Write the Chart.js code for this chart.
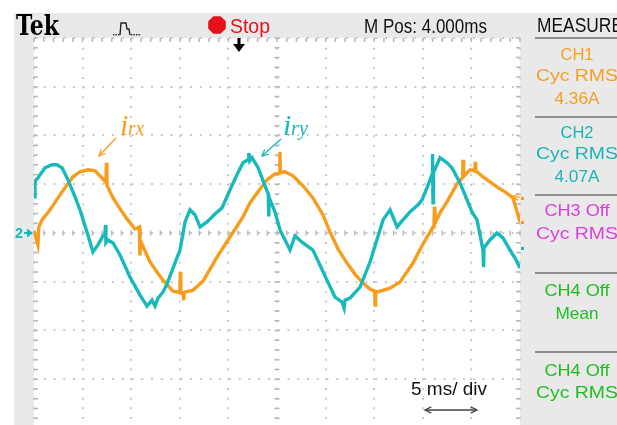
<!DOCTYPE html>
<html>
<head>
<meta charset="utf-8">
<script src="https://cdn.jsdelivr.net/npm/chart.js@4.4.0/dist/chart.umd.min.js"></script>
<style>
  html, body { margin: 0; padding: 0; background: #fff; }
  canvas { display: block; }
</style>
</head>
<body>
<canvas id="scope" width="617" height="425"></canvas>
<script>
// scope screen: 5 ms/div horizontally, 5 A/div vertically (ground at centre line)
const timeTicks = [0, 5, 10, 15, 20, 25, 30, 35, 40, 45, 50];
const ampTicks = [-15, -10, -5, 0, 5, 10, 15, 20];

// CH1 - i_rx (orange), spikes kept as extra points
const irxTime = [0, 0.4, 0.5, 0.82, 1.65, 2.67, 4.01, 4.73, 5.56, 6.28, 6.79, 7.4, 7.45, 7.5, 8.13, 8.85, 9.57, 10.39,
  10.85, 10.9, 10.95, 11.93, 12.65, 13.27, 14.3, 15.0, 15.05, 15.1, 15.33, 15.4, 15.45, 16.36, 17.39, 18.11, 18.83,
  20.16, 21.5, 22.22, 23.05, 23.97, 24.79, 25.25, 25.3, 25.35, 25.82, 26.65, 27.67, 28.7, 29.73, 30.45, 31.28, 32.2,
  33.02, 33.85, 34.57, 35.05, 35.1, 35.15, 35.29, 36.63, 37.65, 38.99, 40.02, 41.05, 41.15, 41.2, 41.25, 41.77, 42.49,
  43.52, 44.1, 44.14, 44.2, 44.86, 45.35, 45.4, 45.45, 45.58, 46.19, 47.63, 48.46, 49.28, 50.0];
const irxAmp = [0.21, -1.2, 0.6, 1.34, 2.37, 3.91, 5.76, 6.28, 6.48, 6.38, 5.86, 5.2, 7.2, 4.9, 3.6, 2.47, 1.44, 0.41,
  0.6, -2.3, -0.8, -2.98, -4.01, -4.84, -5.97, -6.1, -4.0, -6.2, -6.17, -6.9, -6.1, -5.86, -4.94, -3.7, -2.47,
  -0.41, 1.65, 3.09, 4.22, 5.45, 6.07, 6.1, 8.3, 6.2, 6.28, 5.86, 4.84, 3.6, 1.85, 0.1, -1.65, -3.09,
  -4.22, -5.14, -5.76, -6.0, -7.4, -6.0, -6.07, -5.66, -5.04, -3.09, -1.13, 0.62, 0.8, 2.7, 1.0, 2.06, 3.19,
  5.04, 5.7, 7.5, 5.8, 6.48, 6.4, 7.3, 6.3, 6.28, 5.76, 4.73, 4.22, 3.6, 1.13];

// CH2 - i_ry (cyan)
const iryTime = [0, 0.1, 0.41, 1.13, 1.85, 2.37, 2.88, 3.5, 4.22, 4.73, 5.45, 6.07, 6.58, 7.1, 7.3, 7.35, 7.4, 7.61,
  8.13, 8.85, 9.88, 10.91, 11.63, 12.14, 12.45, 12.76, 13.27, 13.68, 14.3, 15.02, 15.54, 16.05, 16.57, 17.08, 17.8,
  18.62, 19.34, 20.16, 20.88, 21.5, 22.02, 22.1, 22.2, 22.43, 23.05, 23.77, 24.1, 24.15, 24.2, 24.28, 24.79, 25.31,
  26.34, 26.85, 27.67, 28.7, 30.14, 30.97, 31.69, 31.9, 32.0, 32.51, 33.54, 34.57, 35.91, 36.63, 37.35, 37.96, 38.68,
  39.51, 39.92, 40.43, 40.95, 41.0, 41.05, 41.1, 41.46, 41.77, 42.49, 43.0, 43.83, 44.55, 45.06, 45.58, 46.19, 46.25,
  46.3, 46.91, 47.63, 48.25, 48.97, 49.49, 50.0];
const iryAmp = [3.7, 5.3, 5.66, 6.69, 7.0, 7.0, 6.69, 5.45, 3.7, 2.37, 0.1, -1.95, -1.23, -0.31, -0.3, 0.8, -1.0, -0.72,
  -1.03, -2.26, -4.53, -6.38, -7.51, -6.89, -7.5, -6.69, -6.07, -5.25, -3.6, -1.75, 1.13, 2.37, 1.85, 0.62, 1.13,
  1.95, 2.57, 4.42, 5.97, 7.2, 7.51, 8.2, 7.4, 7.72, 6.69, 4.84, 4.0, 1.7, 3.2, 3.4, 2.16, 0.31,
  -1.75, -0.31, -1.03, -1.75, -4.84, -6.58, -7.1, -7.7, -6.9, -6.69, -5.56, -2.98, 1.34, 2.37, 0.62, 1.34, 2.16,
  2.88, 3.4, 4.63, 5.97, 8.1, 3.1, 6.2, 7.0, 7.72, 7.2, 6.69, 5.14, 3.4, 2.16, 1.34, -1.75, -3.5,
  -1.5, -0.72, 0, -0.51, -1.75, -2.57, -3.6];

const measureLines = [
  ['CH1', '#f5a01e', 60, 33], ['Cyc RMS', '#f5a01e', 81, 82], ['4.36A', '#f5a01e', 104, 45],
  ['CH2', '#19b5b5', 138, 33], ['Cyc RMS', '#19b5b5', 159, 82], ['4.07A', '#19b5b5', 182, 45],
  ['CH3 Off', '#dc3fdc', 216, 65], ['Cyc RMS', '#dc3fdc', 239, 82],
  ['CH4 Off', '#1fbf1f', 296, 65], ['Mean', '#1fbf1f', 319, 43],
  ['CH4 Off', '#1fbf1f', 376, 65], ['Cyc RMS', '#1fbf1f', 398, 82]
];
const separatorsY = [38, 117, 195, 273, 352];

const ORANGE = '#f79c1c';
const CYAN = '#17b9bb';

function toPoints(xs, ys) {
  return xs.map((x, i) => ({ x: x, y: ys[i] }));
}

// text squeezed / stretched to the width it has on the scope screen
function label(ctx, str, x, y, font, color, width, align) {
  ctx.save();
  ctx.font = font;
  ctx.fillStyle = color;
  ctx.textBaseline = 'alphabetic';
  const w = ctx.measureText(str).width;
  const sx = width ? width / w : 1;
  const left = align === 'center' ? x - w * sx / 2 : x;
  ctx.translate(left, y);
  ctx.scale(sx, 1);
  ctx.fillText(str, 0, 0);
  ctx.restore();
}

function arrowLine(ctx, x1, y1, x2, y2, color, both) {
  const head = (fx, fy, tx, ty) => {
    const a = Math.atan2(ty - fy, tx - fx);
    ctx.beginPath();
    ctx.moveTo(tx - 7 * Math.cos(a - 0.45), ty - 7 * Math.sin(a - 0.45));
    ctx.lineTo(tx, ty);
    ctx.lineTo(tx - 7 * Math.cos(a + 0.45), ty - 7 * Math.sin(a + 0.45));
    ctx.stroke();
  };
  ctx.save();
  ctx.strokeStyle = color;
  ctx.lineWidth = 1.3;
  ctx.beginPath();
  ctx.moveTo(x1, y1);
  ctx.lineTo(x2, y2);
  ctx.stroke();
  head(x1, y1, x2, y2);
  if (both) head(x2, y2, x1, y1);
  ctx.restore();
}

const screenFrame = {
  id: 'screenFrame',
  beforeDraw(chart) {
    const ctx = chart.ctx;
    const a = chart.chartArea;
    ctx.save();
    ctx.fillStyle = '#ffffff';
    ctx.fillRect(0, 0, chart.width, chart.height);
    ctx.fillStyle = '#e9e9e9';
    ctx.fillRect(14, 13, chart.width - 14, chart.height - 13);
    ctx.fillStyle = '#ffffff';
    ctx.fillRect(a.left, a.top, a.right - a.left, a.bottom - a.top);
    ctx.restore();
  },
  beforeDatasetsDraw(chart) {
    // minor ticks on the frame and on the centre lines
    const ctx = chart.ctx;
    const a = chart.chartArea;
    const xs = chart.scales.x, ys = chart.scales.y;
    ctx.save();
    ctx.strokeStyle = '#b8b8b8';
    ctx.lineWidth = 1.5;
    ctx.beginPath();
    for (let t = 0; t <= 50; t += 1) {
      const px = xs.getPixelForValue(t);
      ctx.moveTo(px, a.top); ctx.lineTo(px, a.top + 4);
      const cy = ys.getPixelForValue(0);
      ctx.moveTo(px, cy - 2.5); ctx.lineTo(px, cy + 2.5);
    }
    for (let v = -19; v <= 20; v += 1) {
      const py = ys.getPixelForValue(v);
      ctx.moveTo(a.left, py); ctx.lineTo(a.left + 4, py);
      ctx.moveTo(a.right - 4, py); ctx.lineTo(a.right, py);
      const cx = xs.getPixelForValue(25);
      ctx.moveTo(cx - 2.5, py); ctx.lineTo(cx + 2.5, py);
    }
    ctx.stroke();
    ctx.restore();
  },
  afterDraw(chart) {
    const ctx = chart.ctx;
    const a = chart.chartArea;
    const ys = chart.scales.y;

    // header bar
    label(ctx, 'Tek', 16, 35, 'bold 27px "DejaVu Serif"', '#000', 43);
    ctx.save();
    ctx.strokeStyle = '#222';
    ctx.fillStyle = '#222';
    ctx.lineWidth = 1.4;
    for (let x = 113; x <= 119; x += 2.5) ctx.fillRect(x, 34, 1.4, 1.4);
    for (let x = 131; x <= 140; x += 2.5) ctx.fillRect(x, 34, 1.4, 1.4);
    ctx.beginPath();
    ctx.moveTo(120, 35); ctx.lineTo(121, 23); ctx.lineTo(126, 23);
    ctx.lineTo(127, 29); ctx.lineTo(129, 29); ctx.lineTo(130, 35);
    ctx.stroke();
    // stop octagon
    ctx.fillStyle = '#e5121b';
    ctx.beginPath();
    for (let i = 0; i < 8; i++) {
      const ang = Math.PI / 8 + i * Math.PI / 4;
      const px = 217 + 9.5 * Math.cos(ang), py = 25 + 9.5 * Math.sin(ang);
      if (i === 0) ctx.moveTo(px, py); else ctx.lineTo(px, py);
    }
    ctx.closePath();
    ctx.fill();
    ctx.restore();
    label(ctx, 'Stop', 230, 33, '21px "Liberation Sans"', '#e5121b', 40);
    label(ctx, 'M Pos: 4.000ms', 364, 33, '20px "Liberation Sans"', '#111', 123);
    label(ctx, 'MEASURE', 537, 32, '20px "Liberation Sans"', '#111', 86);

    // trigger position marker
    ctx.save();
    ctx.fillStyle = '#000';
    ctx.fillRect(237.5, 38, 3, 7);
    ctx.beginPath();
    ctx.moveTo(233, 44); ctx.lineTo(245, 44); ctx.lineTo(239, 52); ctx.closePath();
    ctx.fill();
    ctx.restore();

    // measurement panel
    ctx.save();
    ctx.strokeStyle = '#8d8d8d';
    ctx.lineWidth = 2;
    ctx.beginPath();
    separatorsY.forEach(y => { ctx.moveTo(535, y); ctx.lineTo(chart.width, y); });
    ctx.stroke();
    ctx.restore();
    measureLines.forEach(m => label(ctx, m[0], 577, m[2], '17px "Liberation Sans"', m[1], m[3], 'center'));

    // channel ground marker and level markers
    const gy = ys.getPixelForValue(0);
    label(ctx, '2', 15, gy + 5, 'bold 14px "Liberation Sans"', CYAN, 8);
    ctx.save();
    ctx.fillStyle = CYAN;
    ctx.fillRect(24, gy - 1, 4, 2);
    ctx.beginPath();
    ctx.moveTo(27, gy - 4.5); ctx.lineTo(33, gy); ctx.lineTo(27, gy + 4.5); ctx.closePath();
    ctx.fill();
    ctx.fillStyle = ORANGE;
    ctx.fillRect(a.right + 1, 197, 3, 3);
    ctx.fillRect(a.right + 1, 221, 3, 3);
    ctx.fillStyle = CYAN;
    ctx.fillRect(a.right + 1, 247, 3, 3);
    ctx.restore();
    arrowLine(ctx, a.right, 197, a.right - 8, 197, ORANGE, false);

    // trace labels
    label(ctx, 'i', 120, 135, 'italic 30px "Liberation Serif"', ORANGE);
    label(ctx, 'rx', 128, 135, 'italic 22px "Liberation Serif"', ORANGE, 16);
    arrowLine(ctx, 116, 138, 99, 156, ORANGE, false);
    label(ctx, 'i', 283, 135, 'italic 30px "Liberation Serif"', CYAN);
    label(ctx, 'ry', 291, 135, 'italic 22px "Liberation Serif"', CYAN, 17);
    arrowLine(ctx, 281, 139, 262, 156, CYAN, false);

    // time base note
    label(ctx, '5 ms/ div', 411, 395, '19px "Liberation Sans"', '#111', 76);
    arrowLine(ctx, 425, 410, 477, 410, '#444', true);
  }
};

const gridStyle = { color: '#cacaca', lineWidth: 2, drawTicks: false };

new Chart(document.getElementById('scope'), {
  type: 'line',
  data: {
    datasets: [
      { label: 'i_ry', data: toPoints(iryTime, iryAmp), borderColor: CYAN, borderWidth: 3.4 },
      { label: 'i_rx', data: toPoints(irxTime, irxAmp), borderColor: ORANGE, borderWidth: 3.4 }
    ]
  },
  options: {
    responsive: false,
    animation: false,
    devicePixelRatio: 1,
    layout: { padding: { left: 34, top: 38, right: 97, bottom: 0 } },
    elements: { point: { radius: 0 }, line: { tension: 0, borderJoinStyle: 'miter' } },
    plugins: { legend: { display: false }, tooltip: { enabled: false } },
    scales: {
      x: {
        type: 'linear', min: 0, max: 50,
        afterBuildTicks: s => { s.ticks = timeTicks.map(v => ({ value: v })); },
        ticks: { display: false },
        grid: gridStyle,
        border: { display: false, dash: [2, 7.72] }
      },
      y: {
        type: 'linear', min: -19.7, max: 20,
        afterBuildTicks: s => { s.ticks = ampTicks.map(v => ({ value: v })); },
        ticks: { display: false },
        grid: gridStyle,
        border: { display: false, dash: [2, 7.75] }
      }
    }
  },
  plugins: [screenFrame]
});
</script>
</body>
</html>
